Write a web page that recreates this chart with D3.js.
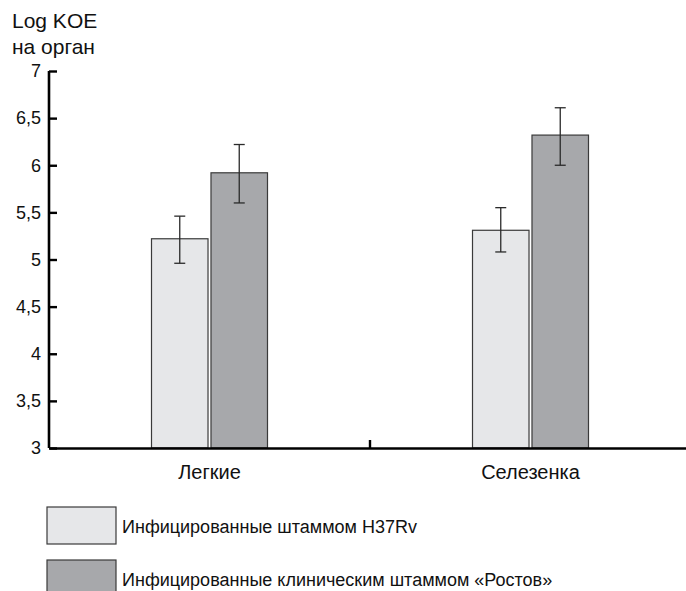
<!DOCTYPE html>
<html>
<head>
<meta charset="utf-8">
<script src="https://cdn.jsdelivr.net/npm/d3@7"></script>
<style>
  html, body { margin: 0; padding: 0; background: #fff; }
  svg { display: block; font-family: "Liberation Sans Narrow", "Liberation Sans", Arial, sans-serif; }
</style>
</head>
<body>
<div id="chart"></div>
<script>
var categories = ["Легкие", "Селезенка"];
var seriesNames = ["Инфицированные штаммом H37Rv", "Инфицированные клиническим штаммом «Ростов»"];
var h37rv = [5.22, 5.31];
var h37rvErr = [[4.96, 5.46], [5.08, 5.55]];
var rostov = [5.92, 6.32];
var rostovErr = [[5.6, 6.22], [6.0, 6.61]];
var yTicks = [3, 3.5, 4, 4.5, 5, 5.5, 6, 6.5, 7];
var colors = ["#e6e7e9", "#a7a8ab"];

var width = 686, height = 591;
var margin = { left: 49, right: -5, top: 71, bottom: 143 };

var svg = d3.select("#chart").append("svg")
    .attr("width", width)
    .attr("height", height);

var x = d3.scaleBand()
    .domain(categories)
    .range([margin.left, width - margin.right])
    .padding(0);

var y = d3.scaleLinear()
    .domain([3, 7])
    .range([height - margin.bottom, margin.top]);

var inner = d3.scaleBand()
    .domain([0, 1])
    .range([-58, 58])
    .paddingInner(0.05);

var series = [
  { vals: h37rv, err: h37rvErr },
  { vals: rostov, err: rostovErr }
];

// bars
series.forEach(function(s, i) {
  var g = svg.append("g");
  g.selectAll("rect")
    .data(s.vals)
    .enter().append("rect")
    .attr("x", function(d, j) { return x(categories[j]) + x.bandwidth() / 2 + inner(i); })
    .attr("y", function(d) { return y(d); })
    .attr("width", inner.bandwidth())
    .attr("height", function(d) { return y(3) - y(d); })
    .attr("fill", colors[i])
    .attr("stroke", "#3a3a3a")
    .attr("stroke-width", 1.2);

  var eg = g.selectAll(".err")
    .data(s.err)
    .enter().append("g")
    .attr("transform", function(d, j) {
      return "translate(" + (x(categories[j]) + x.bandwidth() / 2 + inner(i) + inner.bandwidth() / 2) + ",0)";
    })
    .attr("stroke", "#2a2a2a")
    .attr("stroke-width", 1.3);
  eg.append("line")
    .attr("y1", function(d) { return y(d[0]); })
    .attr("y2", function(d) { return y(d[1]); });
  eg.append("line")
    .attr("x1", -5.5).attr("x2", 5.5)
    .attr("y1", function(d) { return y(d[1]); })
    .attr("y2", function(d) { return y(d[1]); });
  eg.append("line")
    .attr("x1", -5.5).attr("x2", 5.5)
    .attr("y1", function(d) { return y(d[0]); })
    .attr("y2", function(d) { return y(d[0]); });
});

// y axis
var yAxis = svg.append("g")
    .attr("transform", "translate(" + margin.left + ",0)")
    .call(d3.axisLeft(y)
      .tickValues(yTicks)
      .tickSize(-8)
      .tickPadding(8)
      .tickFormat(function(d) { return String(d).replace(".", ","); }));
yAxis.select(".domain").remove();
yAxis.append("line")
    .attr("y1", y(7)).attr("y2", y(3))
    .attr("stroke", "#000").attr("stroke-width", 2.6);
yAxis.selectAll(".tick line").attr("stroke", "#000").attr("stroke-width", 2.4);
yAxis.selectAll(".tick text")
    .attr("fill", "#111")
    .style("font-size", "18px");

// x axis
var xAxis = svg.append("g")
    .attr("transform", "translate(0," + y(3) + ")")
    .call(d3.axisBottom(x).tickSize(0).tickPadding(17));
xAxis.select(".domain").attr("stroke", "#000").attr("stroke-width", 2.6);
xAxis.selectAll(".tick text").attr("fill", "#111").style("font-size", "20px");

// middle separator tick
svg.append("line")
    .attr("x1", x(categories[1])).attr("x2", x(categories[1]))
    .attr("y1", y(3)).attr("y2", y(3) - 8)
    .attr("stroke", "#000").attr("stroke-width", 2.4);

// y title
svg.append("text")
    .attr("x", 12).attr("y", 28)
    .style("font-size", "21px").attr("fill", "#111")
    .text("Log KOE");
svg.append("text")
    .attr("x", 12).attr("y", 54)
    .style("font-size", "21px").attr("fill", "#111")
    .text("на орган");

// legend
var legend = svg.append("g");
seriesNames.forEach(function(name, i) {
  var ly = 507 + i * 53;
  legend.append("rect")
    .attr("x", 47).attr("y", ly)
    .attr("width", 69).attr("height", 37)
    .attr("fill", colors[i])
    .attr("stroke", "#3a3a3a")
    .attr("stroke-width", 1.2);
  legend.append("text")
    .attr("x", 122).attr("y", ly + 26)
    .style("font-size", "18px").attr("fill", "#111")
    .text(name);
});
</script>
</body>
</html>
